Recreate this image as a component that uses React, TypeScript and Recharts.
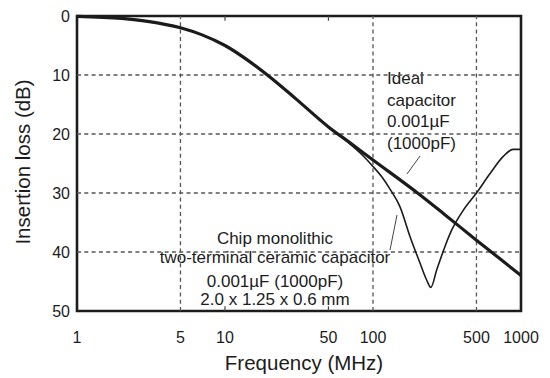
import React from 'react';
import {
  LineChart,
  Line,
  XAxis,
  YAxis,
  ReferenceLine,
  ReferenceArea,
} from 'recharts';

// frequency (MHz) / insertion loss (dB)
const idealFreq = [1, 2, 3, 5, 7, 10, 15, 20, 30, 50, 70, 100, 200, 300, 500, 700, 1000];
const idealLoss = [0.05, 0.4, 0.9, 2.0, 3.2, 5.0, 7.9, 10.3, 14, 18.8, 21.5, 24.4, 30, 33.5, 38, 40.9, 44];

const chipFreq = [1, 2, 3, 5, 7, 10, 15, 20, 30, 50, 70, 85, 100, 115, 130, 152, 178, 208, 230, 246, 269, 306, 340, 408, 500, 618, 759, 883, 1000];
const chipLoss = [0.05, 0.4, 0.9, 2.0, 3.2, 5.0, 7.9, 10.3, 14, 18.8, 21.7, 23.6, 25.5, 27.3, 29.3, 32.3, 37.4, 41.9, 44.7, 46, 43.1, 39.1, 36.3, 32.9, 30, 26.7, 23.8, 22.6, 22.6];

const xTicks = [1, 5, 10, 50, 100, 500, 1000];
const yTicks = [0, 10, 20, 30, 40, 50];
const gridX = [5, 100, 500];
const gridY = [10, 20, 30, 40];
const minorX = [10, 50];

const idealLabel = ['Ideal', 'capacitor', '0.001\u00b5F', '(1000pF)'];
const chipLabel = [
  'Chip monolithic',
  'two-terminal ceramic capacitor',
  '0.001\u00b5F (1000pF)',
  '2.0 x 1.25 x 0.6 mm',
];

const ideal = idealFreq.map((f, i) => ({ f, loss: idealLoss[i] }));
const chip = chipFreq.map((f, i) => ({ f, loss: chipLoss[i] }));

const FONT = '"Liberation Sans", Arial, sans-serif';
const INK = '#1c1c1c';
const tickStyle = { fill: INK, fontSize: 16, fontFamily: FONT };

export default function App() {
  return (
    <div style={{ position: 'absolute', left: 0, top: 0, background: '#fff', fontFamily: FONT }}>
      <LineChart
        width={550}
        height={378}
        margin={{ top: 16, right: 29, bottom: 0, left: 7 }}
      >
        <XAxis
          dataKey="f"
          type="number"
          scale="log"
          domain={[1, 1000]}
          ticks={xTicks}
          allowDataOverflow
          axisLine={false}
          tickLine={false}
          tickSize={0}
          tickMargin={21}
          height={67}
          tick={tickStyle}
        />
        <YAxis
          dataKey="loss"
          type="number"
          domain={[0, 50]}
          reversed
          ticks={yTicks}
          axisLine={false}
          tickLine={false}
          tickSize={0}
          tickMargin={7}
          width={70}
          tick={tickStyle}
        />
        {gridX.map(v => (
          <ReferenceLine key={'gx' + v} x={v} stroke="#555" strokeWidth={1.3} strokeDasharray="4 3.3" />
        ))}
        {gridY.map(v => (
          <ReferenceLine key={'gy' + v} y={v} stroke="#555" strokeWidth={1.3} strokeDasharray="4 3.3" />
        ))}
        {minorX.map(v => (
          <ReferenceLine
            key={'mb' + v}
            segment={[{ x: v, y: 50 }, { x: v, y: 49.2 }]}
            stroke="#444"
            strokeWidth={1.2}
          />
        ))}
        {minorX.map(v => (
          <ReferenceLine
            key={'mt' + v}
            segment={[{ x: v, y: 0 }, { x: v, y: 0.8 }]}
            stroke="#444"
            strokeWidth={1.2}
          />
        ))}
        <Line
          data={ideal}
          dataKey="loss"
          type="monotone"
          stroke={INK}
          strokeWidth={3.2}
          dot={false}
          isAnimationActive={false}
        />
        <Line
          data={chip}
          dataKey="loss"
          type="monotone"
          stroke={INK}
          strokeWidth={1.6}
          dot={false}
          isAnimationActive={false}
        />
        <ReferenceArea
          x1={1}
          x2={1000}
          y1={0}
          y2={50}
          fill="none"
          fillOpacity={0}
          stroke={INK}
          strokeWidth={2.6}
        />
        {idealLabel.map((t, i) => (
          <text key={'il' + i} x={387} y={84 + i * 21.5} fontSize={17} fill={INK} fontFamily={FONT}>
            {t}
          </text>
        ))}
        <line x1={420} y1={156} x2={407} y2={174} stroke="#444" strokeWidth={1} />
        {chipLabel.map((t, i) => (
          <text
            key={'cl' + i}
            x={275}
            y={[244, 263, 287, 305][i]}
            fontSize={17}
            fill={INK}
            fontFamily={FONT}
            textAnchor="middle"
          >
            {t}
          </text>
        ))}
        <line x1={397} y1={215} x2={390} y2={250} stroke="#444" strokeWidth={1} />
        <text x={304} y={370} fontSize={20.5} fill={INK} fontFamily={FONT} textAnchor="middle">
          Frequency (MHz)
        </text>
        <text
          x={0}
          y={0}
          fontSize={20.5}
          fill={INK}
          fontFamily={FONT}
          textAnchor="middle"
          transform="translate(30,162) rotate(-90)"
        >
          Insertion loss (dB)
        </text>
      </LineChart>
    </div>
  );
}
